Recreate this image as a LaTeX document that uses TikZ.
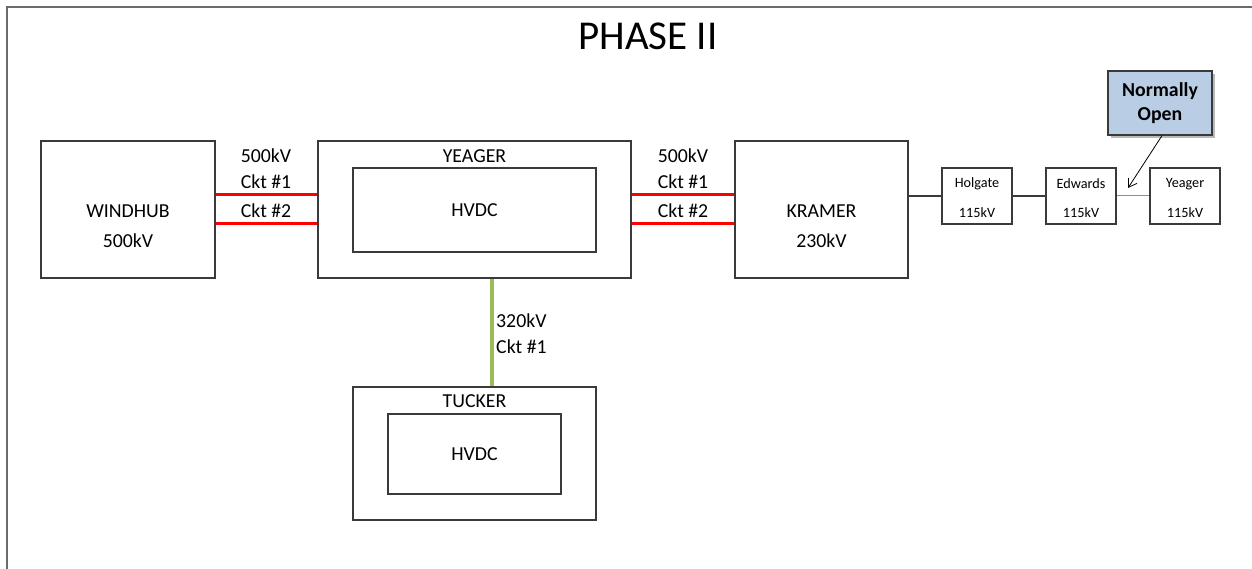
\documentclass[tikz,border=0pt]{standalone}
\usepackage{xcolor}
\usepackage{fontspec}
\setmainfont{Carlito}
\usepackage{tikz}
\usetikzlibrary{arrows.meta, positioning, calc, shadows}
\definecolor{lineRed}{HTML}{FF0000}
\definecolor{lineGreen}{HTML}{9BBB59}
\definecolor{noteBlue}{HTML}{B9CDE5}
\definecolor{boxEdge}{HTML}{3A3A3A}
\newcommand{\lbl}{\fontsize{19.8}{23}\selectfont}
\newcommand{\sml}{\fontsize{14.2}{16}\selectfont}

\begin{document}
\begin{tikzpicture}[x=1pt, y=-1pt, >=Stealth,
  box/.style={draw=boxEdge, line width=1.2pt, inner sep=0pt},
  subbox/.style={box, minimum width=70pt, minimum height=56pt},
  txt/.style={font=\lbl, inner sep=0pt},
  stxt/.style={font=\sml, inner sep=0pt},
  acline/.style={lineRed, line width=3pt},
  dcline/.style={lineGreen, line width=3.5pt},
  frame/.style={draw=black!58, line width=2pt}]
  \useasboundingbox (0,0) rectangle (1252,569);
  \draw[frame] (7,569) -- (7,7) -- (1252,7);
  \node[font=\fontsize{41}{46}\selectfont, inner sep=0pt] (title) at (648,36) {PHASE II};

  % Stanice
  \node[box, minimum width=174pt, minimum height=137pt] (windhub) at (128,209.5) {};
  \node[txt] at ($(windhub.center)+(0,1.5)$) {WINDHUB};
  \node[txt] at ($(windhub.center)+(0,31.5)$) {500kV};

  \node[box, minimum width=313pt, minimum height=137pt] (yeager) at (474.5,209.5) {};
  \node[txt] (yeagerName) at (474.5,156) {YEAGER};
  \node[box, minimum width=243pt, minimum height=84pt] (yeagerDC) at (474.5,210) {};
  \node[txt] at (yeagerDC) {HVDC};

  \node[box, minimum width=173pt, minimum height=137pt] (kramer) at (821.5,209.5) {};
  \node[txt] at ($(kramer.center)+(0,1.5)$) {KRAMER};
  \node[txt] at ($(kramer.center)+(0,31.5)$) {230kV};

  \node[box, minimum width=243pt, minimum height=133pt] (tucker) at (474.5,453.5) {};
  \node[txt] (tuckerName) at (474.5,401) {TUCKER};
  \node[box, minimum width=173pt, minimum height=80pt] (tuckerDC) at (474.5,454) {};
  \node[txt] at (tuckerDC) {HVDC};

  % Vedení 500kV
  \draw[acline] ([yshift=14.5pt]windhub.east) -- ([yshift=14.5pt]yeager.west);
  \draw[acline] ([yshift=-14.5pt]windhub.east) -- ([yshift=-14.5pt]yeager.west);
  \draw[acline] ([yshift=14.5pt]yeager.east) -- ([yshift=14.5pt]kramer.west);
  \draw[acline] ([yshift=-14.5pt]yeager.east) -- ([yshift=-14.5pt]kramer.west);
  \node[txt] at (266,156) {500kV};
  \node[txt] at (266,182) {Ckt \#1};
  \node[txt] at (266,211) {Ckt \#2};
  \node[txt] at (683,156) {500kV};
  \node[txt] at (683,182) {Ckt \#1};
  \node[txt] at (683,211) {Ckt \#2};

  % Vedení 320kV
  \draw[dcline] ([xshift=17.5pt]yeager.south) -- ([xshift=17.5pt]tucker.north);
  \node[txt, anchor=west] at (496,321) {320kV};
  \node[txt, anchor=west] at (496,347) {Ckt \#1};

  % 115kV
  \node[subbox] (holgate) at (977,196) {};
  \node[subbox] (edwards) at (1081,196) {};
  \node[subbox] (yeagerSub) at (1185,196) {};
  \foreach \s/\n in {holgate/Holgate, edwards/Edwards, yeagerSub/Yeager} {
    \node[stxt] at ($(\s.center)+(0,-12)$) {\n};
    \node[stxt] at ($(\s.center)+(0,16.5)$) {115kV};
  }
  \draw[boxEdge, line width=1.2pt] (holgate.west -| kramer.east) -- (holgate.west);
  \draw[boxEdge, line width=1.2pt] (holgate) -- (edwards);
  \draw[black!45, line width=1pt] (edwards) -- (yeagerSub);

  % Poznámka
  \node[box, fill=noteBlue, minimum width=104pt, minimum height=64pt,
        drop shadow={opacity=0.55, shadow xshift=3pt, shadow yshift=-3pt},
        font=\lbl\bfseries, align=center] (note) at (1160,103) {Normally\\[1pt]Open};
  \coordinate (noGap) at (1128,188);
  \draw[-{Straight Barb[length=8pt, width=10pt]}, line width=0.8pt] ([xshift=2pt]note.south) -- (noGap);
\end{tikzpicture}
\end{document}
